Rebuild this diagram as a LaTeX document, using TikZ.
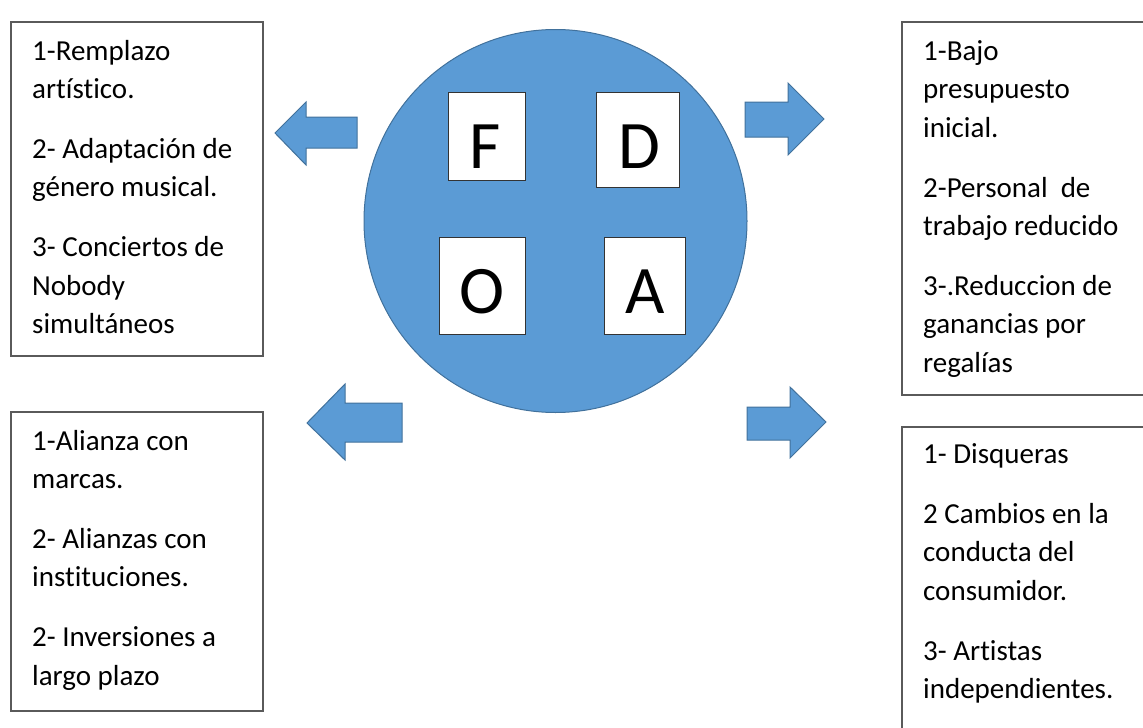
\documentclass[tikz,border=0pt]{standalone}
\usepackage{fontspec}
\setmainfont{Carlito}[Ligatures=NoCommon]
\definecolor{blu}{HTML}{5B9BD5}
\definecolor{bluedge}{HTML}{41719C}
\definecolor{boxedge}{HTML}{5A5A5A}
\begin{document}
\begin{tikzpicture}[x=1pt,y=-1pt,
  txt/.style={anchor=base west,inner sep=0pt,font=\fontsize{29}{33}\selectfont},
  panel/.style={draw=boxedge,line width=1.3pt,fill=white},
  letterbox/.style={draw=black!80,line width=1pt,fill=white},
  letter/.style={anchor=base,inner sep=0pt,font=\fontsize{68}{72}\selectfont},
  blockarrow/.style={fill=blu,draw=bluedge,line width=1pt,line join=miter}]
\useasboundingbox (0,0) rectangle (1143,728);
\clip (0,0) rectangle (1143,728);
% central circle
\node[circle,fill=blu,draw=bluedge,line width=1pt,minimum size=383pt,inner sep=0pt] (c) at (555.5,221) {};
% letter boxes
\node[letterbox,minimum width=77pt,minimum height=88pt,inner sep=0pt] (bF) at (486.5,136) {};
\node[letterbox,minimum width=83pt,minimum height=95pt,inner sep=0pt] (bD) at (637.5,139.5) {};
\node[letterbox,minimum width=86pt,minimum height=97pt,inner sep=0pt] (bO) at (482,285.5) {};
\node[letterbox,minimum width=81pt,minimum height=97pt,inner sep=0pt] (bA) at (644.5,285.5) {};
\node[letter] (lF) at (485,168) {F};
\node[letter] (lD) at (639,168) {D};
\node[letter] (lO) at (482,313) {O};
\node[letter] (lA) at (645,313) {A};
% arrows
\draw[blockarrow] (357,117) -- (306,117) -- (306,102) -- (275,133) -- (306,165) -- (306,148) -- (357,148) -- cycle;
\draw[blockarrow] (402,403) -- (345,403) -- (345,384) -- (307,423) -- (345,460) -- (345,442) -- (402,442) -- cycle;
\draw[blockarrow] (745,102) -- (788,102) -- (788,83) -- (824,119) -- (788,155) -- (788,137) -- (745,137) -- cycle;
\draw[blockarrow] (747,407) -- (790,407) -- (790,387) -- (826,422) -- (790,458) -- (790,440) -- (747,440) -- cycle;
% panels
\draw[panel] (11,22) rectangle (263,356);
\draw[panel] (902,22) rectangle (1160,395);
\draw[panel] (11,412) rectangle (263,711);
\draw[panel] (902,427) rectangle (1160,740);
% top-left text
\node[txt] (tl1) at (32,60) {1-Remplazo};
\node[txt] (tl2) at (32,98.5) {artístico.};
\node[txt] (tl3) at (32,158) {2- Adaptación de};
\node[txt] (tl4) at (32,196.5) {género musical.};
\node[txt] (tl5) at (32,256.5) {3- Conciertos de};
\node[txt] (tl6) at (32,295) {Nobody};
\node[txt] (tl7) at (32,333.5) {simultáneos};
% top-right text
\node[txt] (tr1) at (923,60) {1-Bajo};
\node[txt] (tr2) at (923,98.5) {presupuesto};
\node[txt] (tr3) at (923,137) {inicial.};
\node[txt] (tr4) at (923,197) {2-Personal\ \ de};
\node[txt] (tr5) at (923,235.5) {trabajo reducido};
\node[txt] (tr6) at (923,295) {3-.Reduccion de};
\node[txt] (tr7) at (923,333.5) {ganancias por};
\node[txt] (tr8) at (923,372) {regalías};
% bottom-left text
\node[txt] (bl1) at (32,450) {1-Alianza con};
\node[txt] (bl2) at (32,488.5) {marcas.};
\node[txt] (bl3) at (32,548) {2- Alianzas con};
\node[txt] (bl4) at (32,586.5) {instituciones.};
\node[txt] (bl5) at (32,646.5) {2- Inversiones a};
\node[txt] (bl6) at (32,685) {largo plazo};
% bottom-right text
\node[txt] (br1) at (923,463) {1- Disqueras};
\node[txt] (br2) at (923,523) {2 Cambios en la};
\node[txt] (br3) at (923,561.5) {conducta del};
\node[txt] (br4) at (923,600) {consumidor.};
\node[txt] (br5) at (923,660) {3- Artistas};
\node[txt] (br6) at (923,698.5) {independientes.};
\end{tikzpicture}
\end{document}
